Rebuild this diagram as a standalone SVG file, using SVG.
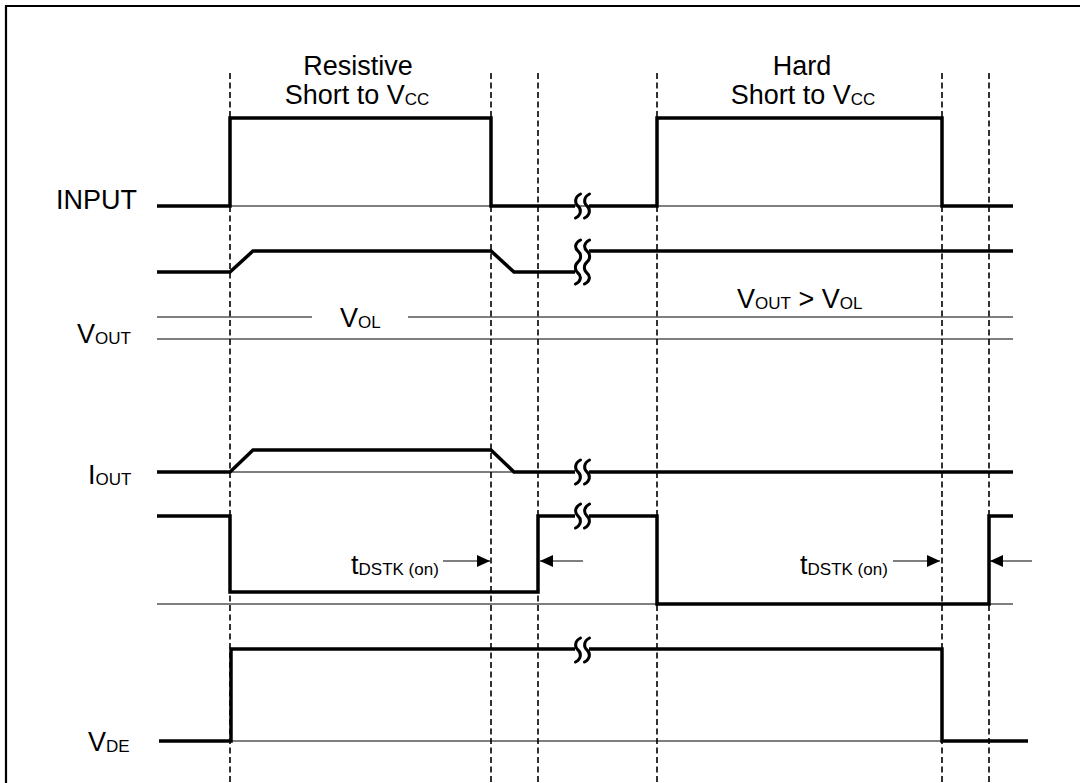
<svg xmlns="http://www.w3.org/2000/svg" width="1080" height="783" viewBox="0 0 1080 783">
<style>
  text { font-family: "Liberation Sans", Arial, sans-serif; fill: #000; }
  .lbl { font-size: 27px; }
  .sub { font-size: 17px; }
  .sig { fill: none; stroke: #000; stroke-width: 3.5; stroke-linejoin: miter; }
  .thin { fill: none; stroke: #000; stroke-width: 1.2; }
  .dash { fill: none; stroke: #000; stroke-width: 1.6; stroke-dasharray: 6 3.5; }
  .brk { fill: none; stroke: #000; stroke-width: 3; stroke-linecap: round; }
  .arr { fill: none; stroke: #000; stroke-width: 1.2; }
</style>
<defs>
  <path id="brkS" class="brk" d="M2.5,-12 C-3.5,-9 -3.5,-3 0,0 C3.5,3 3.5,9 -2.5,12"/>
  <path id="brkT" class="brk" d="M2.5,-22 C-3.5,-19 -3.5,-14 0,-11 C3.5,-8 3.5,-3 0,0 C-3.5,3 -3.5,8 0,11 C3.5,14 3.5,19 -2.5,22"/>
  <marker id="ah" markerWidth="14" markerHeight="12" refX="13" refY="6" orient="auto" markerUnits="userSpaceOnUse">
    <path d="M0,0 L13,6 L0,12 Z" fill="#000"/>
  </marker>
</defs>
<rect width="1080" height="783" fill="#fff"/>
<path d="M6,790 V6 H1090" fill="none" stroke="#000" stroke-width="2.2"/>

<g id="dashed-markers">
  <line class="dash" x1="230" y1="73" x2="230" y2="783"/>
  <line class="dash" x1="491" y1="73" x2="491" y2="783"/>
  <line class="dash" x1="538" y1="73" x2="538" y2="783"/>
  <line class="dash" x1="657" y1="73" x2="657" y2="783"/>
  <line class="dash" x1="942" y1="73" x2="942" y2="783"/>
  <line class="dash" x1="989" y1="73" x2="989" y2="783"/>
</g>

<g id="headers">
  <text class="lbl" x="358" y="75" text-anchor="middle">Resistive</text>
  <text class="lbl" x="357" y="104" text-anchor="middle">Short to V<tspan class="sub" dy="1">CC</tspan></text>
  <text class="lbl" x="802" y="75" text-anchor="middle">Hard</text>
  <text class="lbl" x="803" y="104" text-anchor="middle">Short to V<tspan class="sub" dy="1">CC</tspan></text>
</g>

<g id="input">
  <text class="lbl" x="56" y="209">INPUT</text>
  <line class="thin" x1="157" y1="206" x2="1013" y2="206"/>
  <path class="sig" d="M157,206 H230 V118 H491 V206 H575"/>
  <path class="sig" d="M589,206 H657 V118 H942 V206 H1013"/>
  <use href="#brkS" x="578" y="206"/>
  <use href="#brkS" x="587" y="206"/>
</g>

<g id="vout">
  <text class="lbl" x="77" y="343">V<tspan class="sub" dy="1">OUT</tspan></text>
  <path class="sig" d="M157,272 H230 L253,251 H491 L514,272 H575"/>
  <path class="sig" d="M589,251 H1013"/>
  <use href="#brkT" x="578" y="262"/>
  <use href="#brkT" x="587" y="262"/>
  <line class="thin" x1="157" y1="317" x2="312" y2="317"/>
  <line class="thin" x1="408" y1="317" x2="1013" y2="317"/>
  <line class="thin" x1="157" y1="339" x2="1013" y2="339"/>
  <text class="lbl" x="340" y="327">V<tspan class="sub" dy="1">OL</tspan></text>
  <text class="lbl" x="737" y="308">V<tspan class="sub" dy="1">OUT</tspan><tspan dy="-1"> &gt; V</tspan><tspan class="sub" dy="1">OL</tspan></text>
</g>

<g id="iout">
  <text class="lbl" x="88" y="484">I<tspan class="sub" dy="1">OUT</tspan></text>
  <line class="thin" x1="230" y1="472" x2="514" y2="472"/>
  <path class="sig" d="M157,472 H230 L253,450 H491 L514,472 H575"/>
  <path class="sig" d="M589,472 H1013"/>
  <use href="#brkS" x="578" y="472"/>
  <use href="#brkS" x="587" y="472"/>
</g>

<g id="status">
  <line class="thin" x1="157" y1="604" x2="1013" y2="604"/>
  <path class="sig" d="M157,516 H230 V592 H538 V516 H575"/>
  <path class="sig" d="M589,516 H657 V604 H989 V516 H1013"/>
  <use href="#brkS" x="578" y="516"/>
  <use href="#brkS" x="587" y="516"/>
  <text class="lbl" x="351" y="574">t<tspan class="sub" dy="1">DSTK (on)</tspan></text>
  <text class="lbl" x="800" y="574">t<tspan class="sub" dy="1">DSTK (on)</tspan></text>
</g>

<g id="connectors">
  <line class="arr" x1="443" y1="561" x2="490" y2="561" marker-end="url(#ah)"/>
  <line class="arr" x1="583" y1="561" x2="540" y2="561" marker-end="url(#ah)"/>
  <line class="arr" x1="893" y1="561" x2="940" y2="561" marker-end="url(#ah)"/>
  <line class="arr" x1="1032" y1="561" x2="990" y2="561" marker-end="url(#ah)"/>
</g>

<g id="vde">
  <text class="lbl" x="88" y="751">V<tspan class="sub" dy="1">DE</tspan></text>
  <line class="thin" x1="231" y1="741" x2="942" y2="741"/>
  <path class="sig" d="M159,741 H231 V649 H575"/>
  <path class="sig" d="M589,649 H942 V741 H1028"/>
  <use href="#brkS" x="578" y="650"/>
  <use href="#brkS" x="587" y="650"/>
</g>
</svg>
